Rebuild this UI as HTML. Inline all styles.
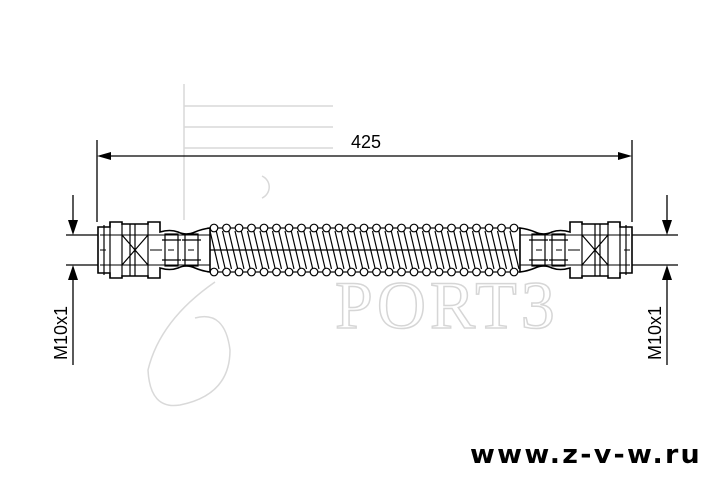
<!DOCTYPE html>
<html><head><meta charset="utf-8"><style>
html,body{margin:0;padding:0;background:#fff;width:720px;height:490px;overflow:hidden}
svg{display:block}
</style></head><body>
<svg width="720" height="490" viewBox="0 0 720 490" xmlns="http://www.w3.org/2000/svg">
<!-- watermark -->
<g stroke="#d9d9d9" fill="none" stroke-width="1.5">
<path d="M184 84 V220 M184 106 H333 M184 127 H333 M184 148 H333"/>
<path d="M262 176 A12 12 0 0 1 262 198"/>
<path d="M215 282 Q160 320 148 370 Q150 410 180 405 Q230 395 230 350 Q225 310 195 318"/>
</g>
<text x="335" y="328" font-family="Liberation Serif,serif" font-size="68" fill="none" stroke="#d6d6d6" stroke-width="1.5" letter-spacing="4">PORT3</text>
<!-- dimension -->
<g stroke="#000" stroke-width="1.3" fill="none">
<path d="M97 140 V222 M632 140 V222 M100 156 H629"/>
</g>
<path d="M97 156 l14 -4 v8 z M632 156 l-14 -4 v8 z" fill="#000"/>
<text x="366" y="148" font-family="Liberation Sans,sans-serif" font-size="18" text-anchor="middle">425</text>
<g stroke="#000" stroke-width="1.3" fill="none">
<path d="M66 235 H100 M66 265 H100 M73 195 V222 M73 278 V365"/>
<path d="M632 235 H678 M632 265 H678 M667 195 V222 M667 278 V365"/>
</g>
<path d="M73 235 l-5 -15 h10 z M73 265 l-5 15 h10 z M667 235 l-5 -15 h10 z M667 265 l-5 15 h10 z" fill="#000"/>
<text transform="translate(67,333) rotate(-90)" font-family="Liberation Sans,sans-serif" font-size="18" text-anchor="middle">M10x1</text>
<text transform="translate(661,333) rotate(-90)" font-family="Liberation Sans,sans-serif" font-size="18" text-anchor="middle">M10x1</text>
<!-- hose spring -->
<g stroke="#000" stroke-width="1.2" fill="none">
<rect x="208" y="228" width="312" height="44"/>
<path id="diag" d=""/>
</g>
<g stroke="#000" stroke-width="1.2" fill="#fff" id="coils"></g>
<defs>
<g id="fitting">
<path d="M98 227 H110 V222 H122 V224 H148 V222 H160 V232 Q170 229 178 232 Q186 236 195 232 Q202 229 210 228 V272 Q202 271 195 268 Q186 264 178 268 Q170 271 160 268 V278 H148 V276 H122 V278 H110 V273 H98 Z" fill="#fff" stroke="#000" stroke-width="1.6"/>
<g fill="none" stroke="#000" stroke-width="1.2">
<path d="M104 225 V275 M110 222 V278 M122 224 V276 M130 224 V276 M135 224 V276 M148 222 V278 M122 235 L148 265 M148 235 L122 265"/>
<rect x="165" y="234" width="13" height="32"/>
<rect x="185" y="234" width="13" height="32"/>
<path d="M162 240 H181 M162 260 H181 M182 240 H201 M182 260 H201"/>
<path d="M100 235 H210 M100 265 H210 M100 250 H106 M150 250 H162 M168 250 H174 M188 250 H194" stroke-width="1"/>
</g>
</g>
</defs>
<use href="#fitting"/>
<use href="#fitting" transform="translate(730,0) scale(-1,1)"/>
<text x="470" y="463" font-family="DejaVu Sans,sans-serif" font-weight="bold" font-size="26" letter-spacing="2.2" textLength="232" lengthAdjust="spacingAndGlyphs">www.z-v-w.ru</text>
<script>
var ns="http://www.w3.org/2000/svg",d="",c=document.getElementById("coils");
for(var x=210;x<516;x+=6.25){d+="M"+x+" 231 L"+(x+9)+" 269 ";}
document.getElementById("diag").setAttribute("d",d+"M210 250 H518");
for(var x=214;x<520;x+=12.5){[228,272].forEach(function(y){var e=document.createElementNS(ns,"circle");e.setAttribute("cx",x);e.setAttribute("cy",y);e.setAttribute("r",3.8);c.appendChild(e);});}
</script>
</svg>
</body></html>
